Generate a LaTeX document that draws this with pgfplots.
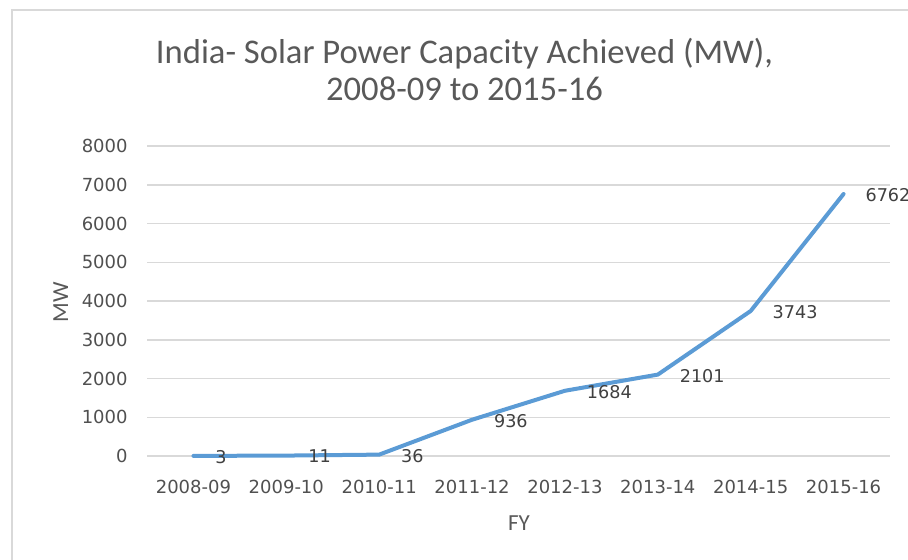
\documentclass[border=0pt]{standalone}
\usepackage{fontspec}
\setmainfont{DejaVu Sans}
\newfontfamily\calibri{Carlito}
\usepackage{pgfplots}
\pgfplotsset{compat=1.18}

\definecolor{lineblue}{HTML}{5B9BD5}
\definecolor{gridgray}{HTML}{D9D9D9}
\definecolor{txtgray}{HTML}{595959}
\definecolor{lblgray}{HTML}{404040}

\begin{document}
\begin{tikzpicture}
\useasboundingbox (0,0) rectangle (454pt,279.5pt);
% chart frame (only top and left edges fall inside the picture)
\draw[gridgray, line width=1pt] (6pt,-10pt) -- (6pt,274.5pt) -- (470pt,274.5pt);

\begin{axis}[
    at={(73.5pt,51.5pt)}, anchor=south west,
    scale only axis,
    width=371.5pt, height=155pt,
    xmin=-0.5, xmax=7.5,
    ymin=0, ymax=8000,
    ytick={0,1000,...,8000},
    xtick=data,
    xticklabels={2008-09,2009-10,2010-11,2011-12,2012-13,2013-14,2014-15,2015-16},
    ymajorgrids,
    grid style={gridgray, line width=0.75pt},
    axis line style={draw=none},
    major tick length=0pt,
    /pgf/number format/.cd, 1000 sep={}, assume math mode=true,
    /pgfplots/.cd,
    tick label style={font=\fontsize{9}{11}\selectfont, text=txtgray!90!black},
    yticklabel style={anchor=east, inner sep=0pt, xshift=-9.5pt},
    xticklabel style={anchor=base, inner sep=0pt, yshift=-18.5pt},
    clip=false,
    nodes near coords,
    every node near coord/.append style={anchor=west, inner sep=0pt, xshift=10pt, yshift=-0.5pt,
        font=\fontsize{8.8}{10}\selectfont, text=lblgray},
]
\addplot[lineblue, line width=2pt, line join=round, line cap=round, mark=none] coordinates {
    (0,3) (1,11) (2,36) (3,936) (4,1684) (5,2101) (6,3743) (7,6762)
};
\end{axis}

\node[anchor=base, text=txtgray, font=\calibri\fontsize{17.3}{20}\selectfont] at (232.25pt,248pt)
    {India- Solar Power Capacity Achieved (MW),};
\node[anchor=base, text=txtgray, font=\calibri\fontsize{17.3}{20}\selectfont] at (232.25pt,229.5pt)
    {2008-09 to 2015-16};
\node[anchor=base, text=txtgray, font=\calibri\fontsize{11.5}{14}\selectfont] at (259.5pt,14.5pt) {FY};
\node[anchor=base, rotate=90, text=txtgray, font=\calibri\fontsize{11.5}{14}\selectfont] at (34pt,128.5pt) {MW};
\end{tikzpicture}
\end{document}
